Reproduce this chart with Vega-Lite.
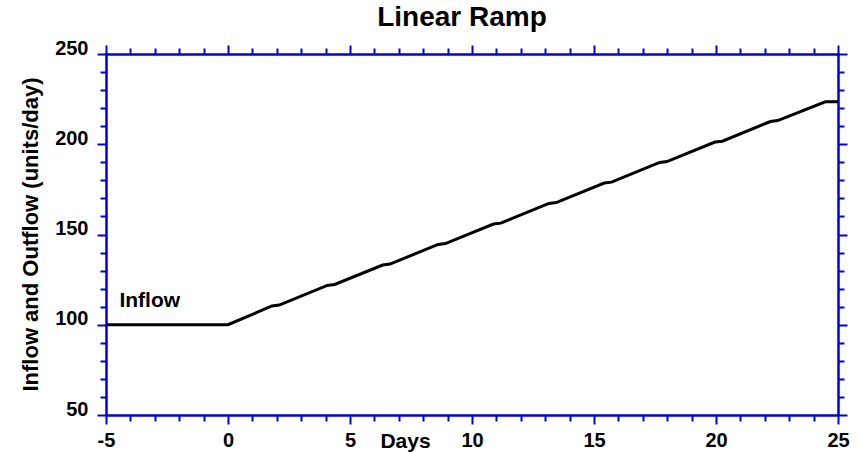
{
  "$schema": "https://vega.github.io/schema/vega-lite/v6.json",
  "width": 732,
  "height": 361,
  "autosize": "none",
  "padding": {"left": 106, "top": 54, "right": 22, "bottom": 37},
  "title": {
    "text": "Linear Ramp",
    "font": "Liberation Sans",
    "fontSize": 28,
    "fontWeight": "bold",
    "color": "black",
    "anchor": "middle",
    "frame": "group",
    "baseline": "alphabetic",
    "offset": 18,
    "dx": -10,
    "dy": 34
  },
  "datasets": {
    "flow": [
      {"day": -5, "value": 100},
      {"day": 0, "value": 100},
      {"day": 1.8, "value": 110.4},
      {"day": 2.1, "value": 110.9},
      {"day": 4.07, "value": 121.8},
      {"day": 4.37, "value": 122.3},
      {"day": 6.34, "value": 133.1},
      {"day": 6.64, "value": 133.6},
      {"day": 8.61, "value": 144.5},
      {"day": 8.91, "value": 145.0},
      {"day": 10.88, "value": 155.8},
      {"day": 11.18, "value": 156.3},
      {"day": 13.15, "value": 167.2},
      {"day": 13.45, "value": 167.7},
      {"day": 15.42, "value": 178.5},
      {"day": 15.72, "value": 179.0},
      {"day": 17.69, "value": 189.9},
      {"day": 17.99, "value": 190.4},
      {"day": 19.96, "value": 201.2},
      {"day": 20.26, "value": 201.7},
      {"day": 22.23, "value": 212.6},
      {"day": 22.53, "value": 213.1},
      {"day": 24.48, "value": 223.5},
      {"day": 25, "value": 223.5}
    ],
    "labels": [
      {"day": -4.45, "value": 110, "label": "Inflow"}
    ]
  },
  "layer": [
    {
      "data": {"name": "flow"},
      "mark": {"type": "line", "color": "black", "strokeWidth": 3, "clip": true},
      "encoding": {
        "x": {
          "field": "day", "type": "quantitative",
          "scale": {"domain": [-5, 25], "nice": false, "zero": false},
          "axis": {
            "orient": "bottom",
            "title": "Days",
            "titleX": 299,
            "titleY": 32,
            "titleAlign": "center",
            "titleBaseline": "alphabetic",
            "values": [-5,-4,-3,-2,-1,0,1,2,3,4,5,6,7,8,9,10,11,12,13,14,15,16,17,18,19,20,21,22,23,24,25],
            "labelExpr": "datum.value % 5 === 0 ? toString(datum.value) : ''",
            "tickSize": {"condition": {"test": "datum.value % 5 === 0", "value": 9}, "value": 6},
            "labelBaseline": "alphabetic",
            "labelPadding": 22
          }
        },
        "y": {
          "field": "value", "type": "quantitative",
          "scale": {"domain": [50, 250], "nice": false, "zero": false},
          "axis": {
            "orient": "left",
            "title": "Inflow and Outflow (units/day)",
            "titleX": -76,
            "titleY": 180,
            "titleAngle": -90,
            "titleAlign": "center",
            "titleBaseline": "middle",
            "titleFontSize": 22,
            "values": [50,60,70,80,90,100,110,120,130,140,150,160,170,180,190,200,210,220,230,240,250],
            "labelExpr": "datum.value % 50 === 0 ? toString(datum.value) : ''",
            "tickSize": {"condition": {"test": "datum.value % 50 === 0", "value": 9}, "value": 6},
            "labelBaseline": "alphabetic",
            "labelPadding": 9
          }
        }
      }
    },
    {
      "data": {"name": "labels"},
      "mark": {"type": "text", "align": "left", "baseline": "alphabetic", "font": "Liberation Sans", "fontSize": 21, "fontWeight": "bold", "color": "black"},
      "encoding": {
        "text": {"field": "label"},
        "x": {
          "field": "day", "type": "quantitative",
          "axis": {
            "orient": "top", "title": null, "labels": false,
            "values": [-5,-4,-3,-2,-1,0,1,2,3,4,5,6,7,8,9,10,11,12,13,14,15,16,17,18,19,20,21,22,23,24,25],
            "tickSize": {"condition": {"test": "datum.value % 5 === 0", "value": 9}, "value": 6}
          }
        },
        "y": {
          "field": "value", "type": "quantitative",
          "axis": {
            "orient": "right", "title": null, "labels": false,
            "values": [50,60,70,80,90,100,110,120,130,140,150,160,170,180,190,200,210,220,230,240,250],
            "tickSize": {"condition": {"test": "datum.value % 50 === 0", "value": 9}, "value": 6}
          }
        }
      }
    }
  ],
  "resolve": {"axis": {"x": "independent", "y": "independent"}},
  "config": {
    "view": {"stroke": null},
    "axis": {
      "grid": false,
      "domainColor": "#0000dd",
      "domainWidth": 2.5,
      "domainCap": "square",
      "tickColor": "#0000dd",
      "tickWidth": 2,
      "labelFont": "Liberation Sans",
      "labelFontSize": 20,
      "labelFontWeight": "bold",
      "labelColor": "black",
      "labelFlush": false,
      "labelOverlap": false,
      "titleFont": "Liberation Sans",
      "titleFontSize": 21,
      "titleFontWeight": "bold",
      "titleColor": "black"
    }
  }
}
